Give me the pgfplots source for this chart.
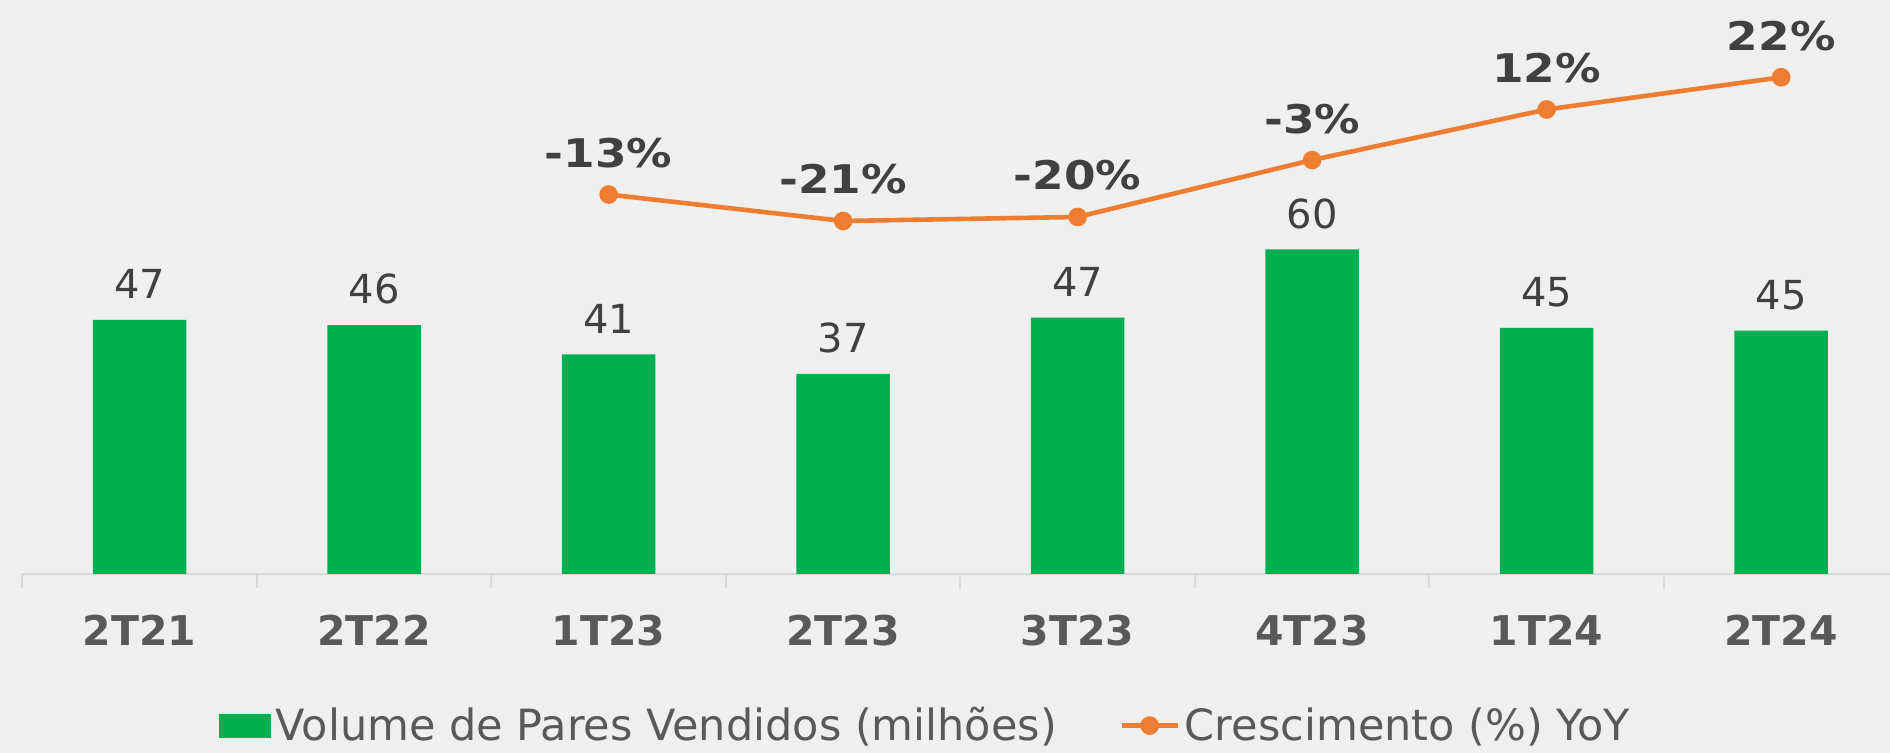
\documentclass[border=0pt]{standalone}
\usepackage{pgfplots}
\usepackage{pgfplotstable}
\pgfplotsset{compat=1.18}
\usepackage{fontspec}
\setmainfont{DejaVu Sans}
\newfontfamily\pctfont[FakeStretch=1.15]{DejaVu Sans}
\definecolor{bg}{HTML}{EFEFEF}
\definecolor{barg}{HTML}{00B050}
\definecolor{lineo}{HTML}{ED7D31}
\definecolor{axg}{HTML}{D9D9D9}
\definecolor{lab}{HTML}{404040}
\definecolor{tickc}{HTML}{595959}

\pgfplotsset{
  linelegend/.style={legend image code/.code={\draw[mark repeat=2, mark phase=2, ##1] plot coordinates {(0pt,0pt) (14pt,0pt) (28pt,0pt)};}},
  barlegend/.style={legend image code/.code={\fill[barg] (0pt,-5.75pt) rectangle (25.5pt,5.75pt);}},
}

\pgfplotstableread{
x v lab
0 46.95 47
1 46.0 46
2 40.6 41
3 37.0 37
4 47.4 47
5 60.0 60
6 45.5 45
7 45.0 45
}\bars

\pgfplotstableread{
x v lab
2 -13.2 -13\%
3 -21.1 -21\%
4 -19.9 -20\%
5 -2.9 -3\%
6 12.2 12\%
7 21.8 22\%
}\growth

\begin{document}
\begin{tikzpicture}
\fill[bg] (0,0) rectangle (945pt,376.5pt);
\begin{axis}[
  at={(11.2pt,89.5pt)}, anchor=south west,
  scale only axis, width=938pt, height=282pt,
  xmin=-0.5, xmax=7.5, ymin=0, ymax=104.25,
  axis x line*=bottom, axis y line=none,
  x axis line style={draw=axg, line width=1pt, -},
  xtick={0,...,7},
  xticklabels={2T21,2T22,1T23,2T23,3T23,4T23,1T24,2T24},
  major tick length=0pt,
  tick align=outside,
  xtick style={draw=axg, line width=1pt},
  xticklabel style={font=\fontsize{20.5}{24}\selectfont\bfseries, text=tickc, anchor=base, inner sep=0pt, yshift=-36pt},
  extra x ticks={-0.5,0.5,1.5,2.5,3.5,4.5,5.5,6.5,7.5},
  extra x tick labels={},
  extra x tick style={major tick length=7pt},
  ybar, bar width=46.65pt, bar shift=0pt,
  nodes near coords, point meta=explicit symbolic,
  every node near coord/.append style={font=\fontsize{20}{24}\selectfont, text=lab, anchor=base, inner sep=0pt, yshift=10.65pt},
  clip=false,
]
\addplot[fill=barg, draw=none] table[x=x, y=v, meta=lab]{\bars};
\end{axis}
\begin{axis}[
  at={(11.2pt,89.5pt)}, anchor=south west,
  scale only axis, width=938pt, height=282pt,
  xmin=-0.5, xmax=7.5, ymin=-126.5, ymax=41.9,
  axis lines=none, clip=false,
  legend columns=2,
  legend style={draw=none, fill=none, inner sep=0pt, outer sep=0pt,
    at={(0.1048,-0.2688)}, anchor=west,
    font=\fontsize{21.5}{26}\selectfont, text=tickc,
    nodes={inner sep=0pt, inner xsep=2.5pt},
    /tikz/every even column/.append style={column sep=28.75pt}},
]
\addlegendimage{barlegend}
\addlegendentry{Volume de Pares Vendidos (milhões)}
\addplot[lineo, line width=2.3pt, mark=*, mark size=3.5pt,
  mark options={fill=lineo, draw=none},
  nodes near coords, point meta=explicit symbolic,
  every node near coord/.append style={font=\fontsize{19.75}{24}\pctfont\bfseries, text=lab, anchor=base, inner sep=0pt, yshift=13.5pt},
  linelegend
] table[x=x, y=v, meta=lab]{\growth};
\addlegendentry{Crescimento (\%) YoY}
\end{axis}
\pgfresetboundingbox
\useasboundingbox (0,0) rectangle (945pt,376.5pt);
\end{tikzpicture}
\end{document}
